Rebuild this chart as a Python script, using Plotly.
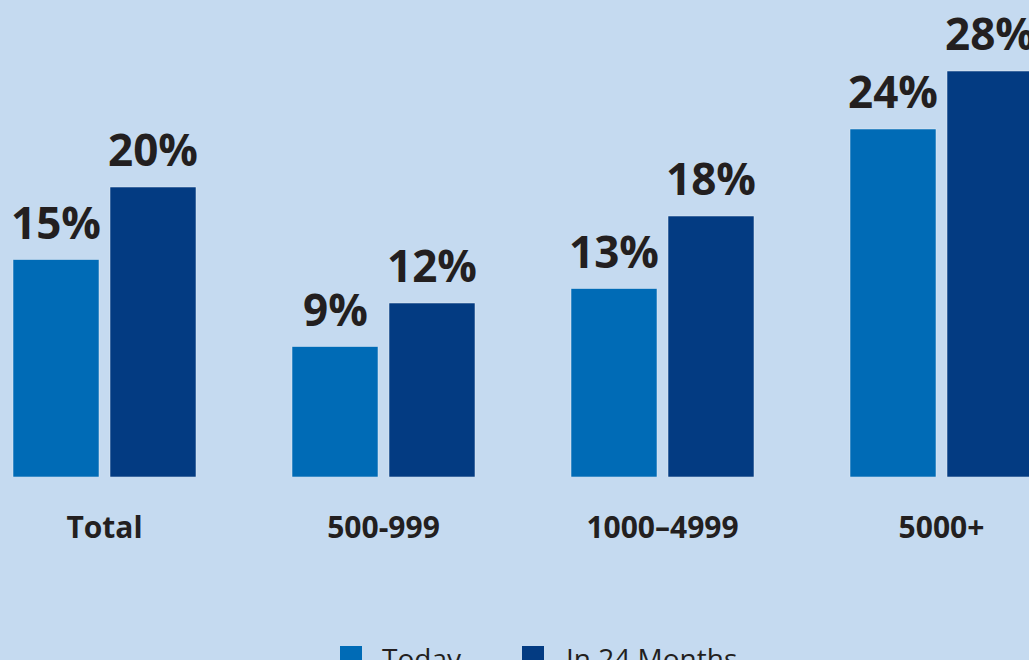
import plotly.graph_objects as go

categories = ["Total", "500-999", "1000–4999", "5000+"]
today = [15, 9, 13, 24]
in_24_months = [20, 12, 18, 28]
series_names = ["Today", "In 24 Months"]
series_colors = ["#006bb6", "#033b82"]

BG = "#c5daf0"
TXT = "#231f20"
FONT = "Open Sans"

W, H = 1029, 660
plot_bottom_px = 477
group_px = 279.0
center0_px = 104.5
bar_px = 86.0
gap_px = 11.0

width_u = bar_px / group_px
offsets = [-(bar_px + gap_px / 2) / group_px, (gap_px / 2) / group_px]
shifts_px = [-(bar_px + gap_px) / 2, (bar_px + gap_px) / 2]

fig = go.Figure()
for vals, name, col, off in zip([today, in_24_months], series_names, series_colors, offsets):
    fig.add_trace(go.Bar(
        x=categories, y=vals, name=name, marker_color=col,
        width=width_u, offset=off, showlegend=False,
    ))

annos = []
for vals, sh in zip([today, in_24_months], shifts_px):
    for c, v in zip(categories, vals):
        annos.append(dict(
            x=c, y=v, xref="x", yref="y", text=f"{v}%", showarrow=False,
            xanchor="center", yanchor="bottom", xshift=sh, yshift=6,
            font=dict(family=FONT, size=44, color=TXT, weight=700),
        ))

# manual legend (bottom, cut off by frame)
def py_to_paper(py):
    return (plot_bottom_px - py) / plot_bottom_px

shapes = []
legend_items = [(340, 380), (522, 564)]
for (sx, tx), name, col in zip(legend_items, series_names, series_colors):
    shapes.append(dict(type="rect", xref="paper", yref="paper",
                       x0=sx / W, x1=(sx + 22) / W,
                       y0=py_to_paper(668), y1=py_to_paper(646),
                       fillcolor=col, line=dict(width=0)))
    annos.append(dict(x=tx / W, y=py_to_paper(637), xref="paper", yref="paper",
                      text=name, showarrow=False, xanchor="left", yanchor="top",
                      font=dict(family=FONT, size=28, color=TXT)))

x_lo = -center0_px / group_px
x_hi = (W - center0_px) / group_px
y_hi = plot_bottom_px / 14.5

fig.update_layout(
    width=W, height=H,
    margin=dict(l=0, r=0, t=0, b=H - plot_bottom_px, pad=0),
    paper_bgcolor=BG, plot_bgcolor=BG,
    barmode="overlay",
    hovermode=False,
    xaxis=dict(range=[x_lo, x_hi], showgrid=False, zeroline=False, showline=False,
               ticks="", ticklabelstandoff=30, fixedrange=True,
               tickfont=dict(family=FONT, size=30, color=TXT, weight=700)),
    yaxis=dict(range=[0, y_hi], visible=False, showgrid=False, zeroline=False,
               fixedrange=True),
    annotations=annos, shapes=shapes,
)

fig.write_html("out.html", config={"displayModeBar": False},
               post_script="document.body.style.margin='0';document.body.style.background='" + BG + "';")
